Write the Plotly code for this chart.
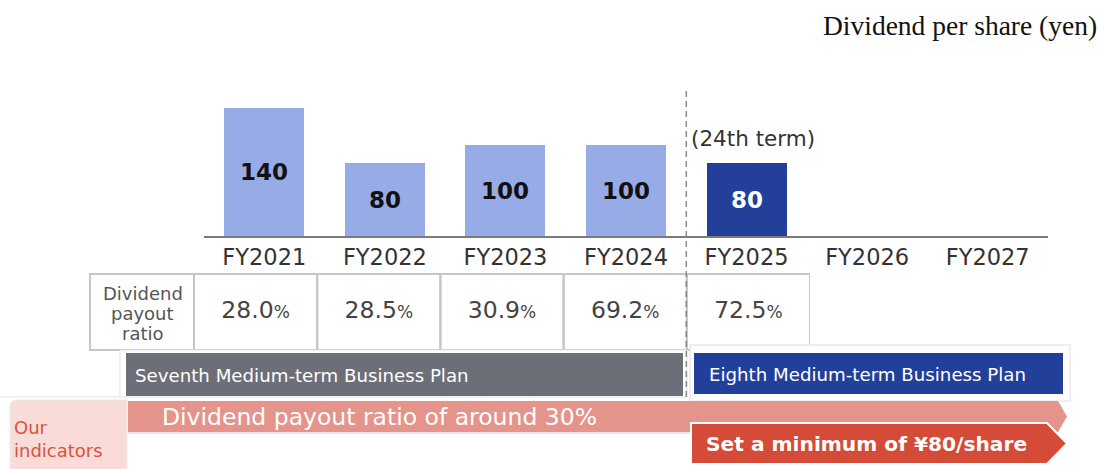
import plotly.graph_objects as go

# ---------------- data ----------------
years = ["FY2021", "FY2022", "FY2023", "FY2024", "FY2025", "FY2026", "FY2027"]
dividends = [140, 80, 100, 100, 80, None, None]
bar_colors = ["#97abe6", "#97abe6", "#97abe6", "#97abe6", "#22409a", "#97abe6", "#97abe6"]
label_colors = ["#111111", "#111111", "#111111", "#111111", "#ffffff", "#111111", "#111111"]

ratio_years = ["FY2021", "FY2022", "FY2023", "FY2024", "FY2025"]
payout_ratios = ["28.0", "28.5", "30.9", "69.2", "72.5"]

title_text = "Dividend per share (yen)"
term_text = "(24th term)"
ratio_label = ["Dividend", "payout", "ratio"]
plan7_text = "Seventh Medium-term Business Plan"
plan8_text = "Eighth Medium-term Business Plan"
indicator_label = "Our<br>indicators"
indicator1_text = "Dividend payout ratio of around 30%"
indicator2_text = "Set a minimum of ¥80/share"

W, H = 1104, 469
FONT = "DejaVu Sans"


def px(x):
    return x / W


def py(y):
    return 1 - y / H


fig = go.Figure()

fig.add_trace(go.Bar(
    x=years,
    y=dividends,
    marker=dict(color=bar_colors, line=dict(width=0)),
    width=0.6635,
    text=[("" if v is None else str(v)) for v in dividends],
    textposition="inside",
    insidetextanchor="middle",
    constraintext="none",
    textangle=0,
    textfont=dict(family=FONT, size=23, color=label_colors, weight="bold"),
    hoverinfo="skip",
    cliponaxis=False,
    showlegend=False,
    xaxis="x", yaxis="y",
))

fig.add_trace(go.Scatter(
    x=ratio_years,
    y=[0.5] * len(ratio_years),
    mode="text",
    text=[f"{r}<span style='font-size:17px'>%</span>" for r in payout_ratios],
    textposition="middle center",
    textfont=dict(family=FONT, size=23.5, color="#444444"),
    hoverinfo="skip",
    showlegend=False,
    xaxis="x2", yaxis="y2",
))

shapes = []

# ---- table ----
TBL_TOP, TBL_BOT = 274, 350
cell_line = dict(color="#c6c6c6", width=2)
shapes.append(dict(type="rect", xref="paper", yref="paper",
                   x0=px(90), x1=px(194), y0=py(TBL_BOT), y1=py(TBL_TOP),
                   line=cell_line, fillcolor="white", layer="below"))
for i in range(len(ratio_years)):
    shapes.append(dict(type="rect", xref="x2", yref="paper",
                       x0=i - 0.5, x1=i + 0.5, y0=py(TBL_BOT), y1=py(TBL_TOP),
                       line=cell_line, fillcolor="rgba(0,0,0,0)", layer="below"))

# ---- plan banners ----
shapes.append(dict(type="rect", xref="paper", yref="paper",
                   x0=px(120), x1=px(687), y0=py(397), y1=py(350),
                   line=dict(color="#e2e2e2", width=1), fillcolor="white"))
shapes.append(dict(type="line", xref="paper", yref="paper",
                   x0=px(0), x1=px(120), y0=py(397), y1=py(397),
                   line=dict(color="#e2e2e2", width=1)))
shapes.append(dict(type="rect", xref="paper", yref="paper",
                   x0=px(126), x1=px(683), y0=py(396), y1=py(353),
                   line=dict(width=0), fillcolor="#6c6f77"))
shapes.append(dict(type="rect", xref="paper", yref="paper",
                   x0=px(690), x1=px(1070), y0=py(401), y1=py(345),
                   line=dict(color="#dedede", width=1), fillcolor="white"))
shapes.append(dict(type="rect", xref="paper", yref="paper",
                   x0=px(694), x1=px(1063), y0=py(394), y1=py(353),
                   line=dict(width=0), fillcolor="#22409a"))


def path(points):
    s = "M " + " L ".join(f"{px(x):.5f},{py(y):.5f}" for x, y in points) + " Z"
    return s


# "Our indicators" box with rounded top-left corner
r = 7
x0, x1, y0, y1 = 10, 127, 400, 475
ind_path = (f"M {px(x0):.5f},{py(y1):.5f} L {px(x0):.5f},{py(y0 + r):.5f} "
            f"Q {px(x0):.5f},{py(y0):.5f} {px(x0 + r):.5f},{py(y0):.5f} "
            f"L {px(x1):.5f},{py(y0):.5f} L {px(x1):.5f},{py(y1):.5f} Z")
shapes.append(dict(type="path", xref="paper", yref="paper", path=ind_path,
                   fillcolor="#f9dcd8", line=dict(color="#ececec", width=1)))

# pink arrow
shapes.append(dict(type="path", xref="paper", yref="paper",
                   path=path([(128, 401), (1058, 401), (1067, 416.5), (1058, 432), (128, 432)]),
                   fillcolor="#e4948a", line=dict(width=0)))
shapes.append(dict(type="line", xref="paper", yref="paper",
                   x0=px(128), x1=px(692), y0=py(433), y1=py(433),
                   line=dict(color="#d0d0d0", width=1)))
# red arrow
shapes.append(dict(type="path", xref="paper", yref="paper",
                   path=path([(691, 423), (1047, 423), (1067, 443.5), (1047, 464), (691, 464)]),
                   fillcolor="#d44c37", line=dict(color="white", width=2)))

# dashed separator
shapes.append(dict(type="line", xref="x", yref="paper",
                   x0=3.5, x1=3.5, y0=py(397), y1=py(87),
                   line=dict(color="#8a8a8a", width=1.5, dash="6px,4px")))

annotations = []


def ann(text, x, y, size, color, xanchor="left", family=FONT, weight="normal", align="left"):
    annotations.append(dict(text=text, x=px(x), y=py(y), xref="paper", yref="paper",
                            xanchor=xanchor, yanchor="middle", showarrow=False, align=align,
                            font=dict(family=family, size=size, color=color, weight=weight)))


ann(title_text, 1099, 25, 27.5, "#111111", xanchor="right", family="Liberation Serif")
annotations.append(dict(text=term_text, x=3.5, y=py(138), xref="x", yref="paper",
                        xanchor="left", yanchor="middle", xshift=3, showarrow=False,
                        font=dict(family=FONT, size=21.5, color="#333333")))
for line_text, yy in zip(ratio_label, [293, 313, 333]):
    ann(line_text, 142.5, yy, 18, "#555555", xanchor="center")
ann(plan7_text, 133, 375, 18.2, "#ffffff")
ann(plan8_text, 707, 374, 18.2, "#ffffff")
ann(indicator1_text, 160, 417, 23.5, "#ffffff")
ann(indicator2_text, 704, 444, 20.2, "#ffffff", weight="bold")
ann(indicator_label, 12, 439, 18, "#d9533f")

fig.update_layout(
    width=W, height=H,
    margin=dict(l=0, r=0, t=0, b=0),
    paper_bgcolor="white", plot_bgcolor="rgba(0,0,0,0)",
    showlegend=False,
    bargap=0,
    shapes=shapes,
    annotations=annotations,
    xaxis=dict(type="category", categoryorder="array", categoryarray=years,
               domain=[px(204), px(1048)], range=[-0.5, 6.5],
               showline=True, linecolor="#7a7a7a", linewidth=1.5,
               showgrid=False, zeroline=False, ticks="", ticklen=0,
               tickfont=dict(family=FONT, size=22.5, color="#333333"),
               fixedrange=True, anchor="y"),
    yaxis=dict(domain=[py(236), py(60)], range=[0, 193], visible=False,
               fixedrange=True, anchor="x"),
    xaxis2=dict(type="category", categoryorder="array", categoryarray=ratio_years,
                domain=[px(194), px(810)], range=[-0.5, 4.5], visible=False,
                fixedrange=True, anchor="y2"),
    yaxis2=dict(domain=[py(350), py(274)], range=[0, 1], visible=False,
                fixedrange=True, anchor="x2"),
)

fig.write_html("out.html", config={"displayModeBar": False})
